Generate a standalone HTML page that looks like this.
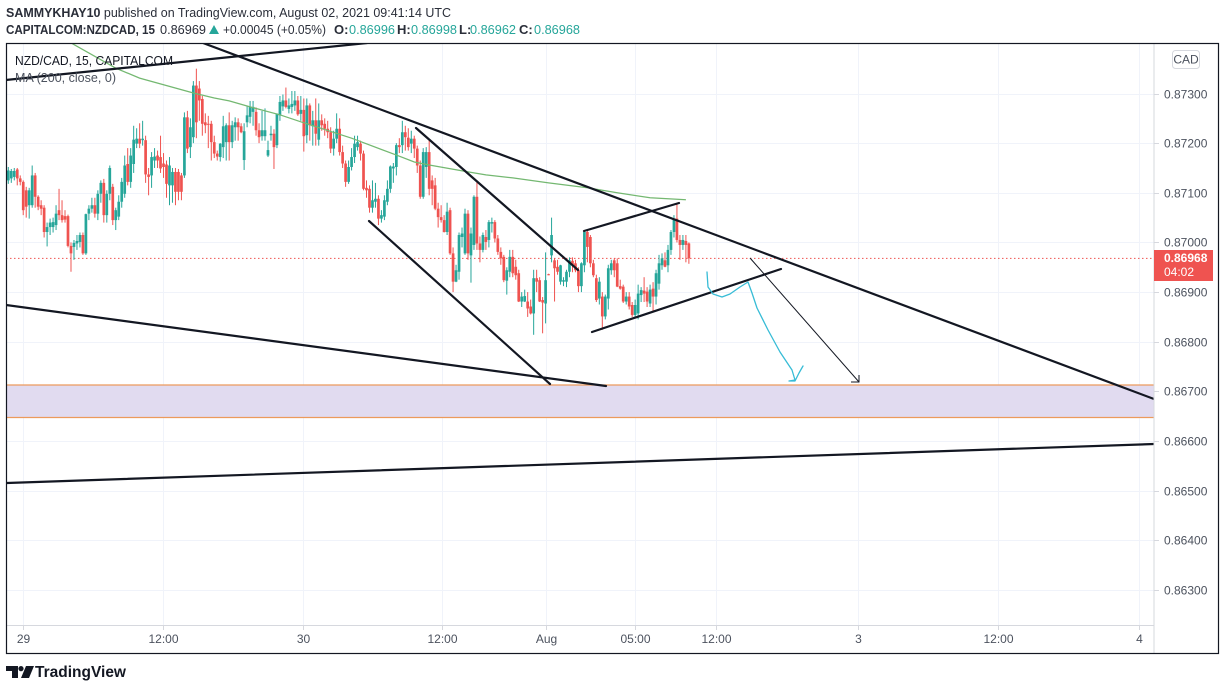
<!DOCTYPE html>
<html lang="en">
<head>
<meta charset="utf-8">
<title>NZD/CAD chart</title>
<style>
html,body{margin:0;padding:0;background:#fff;width:1225px;height:690px;overflow:hidden}
svg{display:block;font-family:"Liberation Sans",sans-serif}
</style>
</head>
<body>
<svg id="chart" width="1225" height="690" viewBox="0 0 1225 690">
  <defs><clipPath id="plot-clip"><rect x="7" y="44" width="1147" height="581"/></clipPath></defs>
  <rect x="0" y="0" width="1225" height="690" fill="#fff"/>

  <g font-size="13" fill="#2a2e39">
    <text x="6" y="17" textLength="445" lengthAdjust="spacingAndGlyphs"><tspan font-weight="bold">SAMMYKHAY10</tspan> published on TradingView.com, August 02, 2021 09:41:14 UTC</text>
    <text x="6" y="34" font-weight="bold" textLength="149" lengthAdjust="spacingAndGlyphs">CAPITALCOM:NZDCAD, 15</text>
    <text x="160" y="34" textLength="46" lengthAdjust="spacingAndGlyphs">0.86969</text>
    <polygon points="209,34 219,34 214,25" fill="#26a69a"/>
    <text x="223" y="34" textLength="103" lengthAdjust="spacingAndGlyphs">+0.00045 (+0.05%)</text>
    <text x="334" y="34" font-weight="bold">O:</text>
    <text x="349" y="34" fill="#26a69a" textLength="46" lengthAdjust="spacingAndGlyphs">0.86996</text>
    <text x="397" y="34" font-weight="bold">H:</text>
    <text x="411" y="34" fill="#26a69a" textLength="46" lengthAdjust="spacingAndGlyphs">0.86998</text>
    <text x="459" y="34" font-weight="bold">L:</text>
    <text x="470" y="34" fill="#26a69a" textLength="46" lengthAdjust="spacingAndGlyphs">0.86962</text>
    <text x="519" y="34" font-weight="bold">C:</text>
    <text x="534" y="34" fill="#26a69a" textLength="46" lengthAdjust="spacingAndGlyphs">0.86968</text>
  </g>

  <g id="grid"></g>

  <g clip-path="url(#plot-clip)">
    <rect x="6" y="385" width="1148" height="32.5" fill="#e1dbf0"/>
    <line x1="6" y1="385" x2="1154" y2="385" stroke="#ec9a5c" stroke-width="1.2"/>
    <line x1="6" y1="417.5" x2="1154" y2="417.5" stroke="#ec9a5c" stroke-width="1.2"/>
    <line id="last-line" x1="6" x2="1154" stroke="#ef5350" stroke-width="1" stroke-dasharray="1.5 2.5"/>
    <g id="candles"></g>
    <path id="ma-line" fill="none" stroke="#74b871" stroke-width="1.25"/>
    <g stroke="#131722" stroke-width="2.2" stroke-linecap="round">
      <line x1="6" y1="80" x2="367" y2="43"/>
      <line x1="203" y1="43" x2="1154" y2="399"/>
      <line x1="416" y1="128" x2="578" y2="270"/>
      <line x1="369" y1="221" x2="550" y2="384"/>
      <line x1="6" y1="305" x2="606" y2="386"/>
      <line x1="584" y1="231" x2="679" y2="203"/>
      <line x1="592" y1="332" x2="781" y2="269"/>
      <line x1="6" y1="483" x2="1154" y2="444"/>
    </g>
    <g stroke="#131722" stroke-width="1" fill="none">
      <line x1="750" y1="258" x2="859" y2="382"/>
      <polyline points="851,382 859,382 859,375"/>
    </g>
    <polyline fill="none" stroke="#37bcd6" stroke-width="1.3" stroke-linejoin="round" stroke-linecap="round" points="707,272 708,287 713,294 722,297 730,294 740,287 748,282 752,293 757,308 768,330 780,352 792,370 795,380 789,381 795,381 799,373 803,366"/>
  </g>

  <g font-size="13">
    <text x="15" y="65" fill="#131722" textLength="158" lengthAdjust="spacingAndGlyphs">NZD/CAD, 15, CAPITALCOM</text>
    <text x="15" y="82" fill="#4c525e" textLength="101" lengthAdjust="spacingAndGlyphs">MA (200, close, 0)</text>
  </g>

  <line x1="1154" y1="44" x2="1154" y2="653" stroke="#d6d8de" stroke-width="1"/>
  <line x1="6" y1="625.5" x2="1154" y2="625.5" stroke="#d6d8de" stroke-width="1"/>
  <g id="price-axis"></g>
  <g id="time-axis"></g>

  <rect x="1172.5" y="50.5" width="27" height="18" rx="3" fill="#fff" stroke="#d6d8de"/>
  <text x="1186" y="63.5" font-size="12" fill="#4c525e" text-anchor="middle">CAD</text>

  <rect x="1154" y="250" width="59" height="31" fill="#ef5350"/>
  <text id="last-label" x="1164" y="262" font-size="12" font-weight="bold" fill="#fff"></text>
  <text x="1164" y="276" font-size="12" fill="#fff">04:02</text>

  <rect x="6.5" y="43.5" width="1212" height="610" fill="none" stroke="#131722" stroke-width="1.2"/>

  <g>
    <path d="M6 666h12v12h-6v-7h-6z" fill="#131722"/>
    <circle cx="21" cy="668.6" r="2.6" fill="#131722"/>
    <path d="M26 666h8l-5 12h-8z" fill="#131722"/>
    <text x="35" y="677" font-size="15.5" font-weight="bold" fill="#131722" textLength="91" lengthAdjust="spacingAndGlyphs">TradingView</text>
  </g>
</svg>

<script>
// Prices are in units of 0.00001 CAD.
const opens = [
87125,87129,87132,87147,87129,87122,87105,87075,87075,87135,
87092,87075,87070,87021,87031,87031,87035,87065,87055,87053,
87053,86993,86991,86998,87001,87015,86978,87058,87068,87075,
87058,87098,87120,87055,87098,87112,87045,87052,87082,87098,
87158,87122,87158,87199,87209,87206,87206,87137,87135,87165,
87175,87172,87159,87157,87115,87115,87142,87142,87135,87135,
87252,87192,87212,87316,87310,87289,87242,87239,87239,87202,
87179,87172,87192,87202,87236,87202,87232,87242,87234,87166,
87242,87253,87263,87263,87226,87214,87214,87175,87216,87219,
87196,87256,87274,87286,87269,87273,87276,87286,87259,87267,
87216,87276,87234,87246,87207,87246,87239,87229,87222,87189,
87209,87229,87182,87159,87122,
87152,87172,87192,87199,87179,87110,87108,87070,87082,87088,
87048,87052,87082,87108,87149,87152,87196,87196,87222,87211,
87199,87209,87189,87155,87092,87152,87182,87125,87115,87068,
87051,87045,87021,87065,86978,86921,86941,87011,86978,87058,
86974,86995,87092,86998,86985,87011,87005,87038,87041,87008,
86981,86971,86923,86941,86971,86951,86938,86881,86881,86881,
86871,86857,86928,86924,86884,86877,86936,86974,86964,86951,
86921,86921,86921,86941,86963,86958,86944,86912,86954,87021,
87011,86958,86928,86887,86891,86851,86887,86944,86964,86958,
86912,86911,86881,86891,86874,86854,86857,86894,86903,86901,
86877,86907,86891,86917,86954,86964,86954,86985,87021,87048,
87005,86995,87003,86998];
const highs = [
87152,87148,87150,87150,87135,87125,87112,87110,87155,87140,
87095,87085,87075,87040,87048,87050,87075,87108,87085,87065,
87056,87000,87005,87015,87020,87020,87058,87075,87090,87090,
87105,87125,87128,87105,87155,87118,87070,87095,87130,87175,
87190,87190,87235,87230,87240,87245,87215,87150,87182,87190,
87185,87215,87180,87165,87172,87150,87150,87148,87140,87262,
87265,87250,87325,87350,87325,87295,87260,87255,87245,87215,
87185,87200,87255,87240,87262,87245,87252,87250,87240,87240,
87275,87285,87285,87272,87240,87265,87270,87205,87235,87228,
87260,87295,87298,87312,87290,87305,87305,87295,87295,87290,
87290,87280,87265,87290,87280,87258,87250,87245,87232,87225,
87260,87250,87195,87165,87165,
87190,87215,87215,87205,87185,87125,87115,87125,87120,87095,
87065,87095,87125,87155,87160,87200,87210,87245,87235,87230,
87225,87215,87195,87165,87190,87192,87208,87135,87130,87080,
87075,87055,87080,87070,86990,86955,87020,87030,87068,87065,
87030,87095,87125,87012,87020,87025,87045,87050,87045,87015,
86990,86975,86950,86985,86985,86965,86945,86900,86905,86900,
86885,86945,86945,86930,86890,86980,86937,87050,86968,86965,
86955,86930,86945,86970,86970,86965,86950,86960,87025,87025,
87015,86965,86935,86930,86900,86895,86955,86965,86968,86968,
86925,86915,86900,86900,86880,86885,86915,86910,86930,86910,
86915,86920,86945,86975,86978,86980,86995,87025,87055,87078,
87015,87015,87015,87000];
const lows = [
87118,87120,87125,87115,87115,87055,87050,87048,87070,87070,
87065,87055,87010,86992,87015,87020,87025,87045,87040,87040,
86990,86941,86965,86985,86990,86975,86975,87045,87060,87050,
87045,87080,87040,87040,87085,87035,87025,87045,87070,87090,
87115,87110,87140,87190,87190,87195,87120,87095,87110,87150,
87150,87140,87130,87090,87075,87080,87075,87085,87085,87130,
87180,87170,87200,87210,87245,87215,87220,87190,87165,87170,
87165,87163,87170,87165,87165,87190,87205,87205,87220,87146,
87232,87240,87235,87215,87200,87205,87205,87172,87205,87148,
87190,87245,87265,87270,87260,87260,87265,87255,87245,87183,
87200,87205,87195,87195,87195,87225,87215,87210,87180,87175,
87200,87175,87150,87112,87118,
87145,87160,87185,87165,87105,87090,87060,87060,87070,87035,
87040,87045,87075,87100,87120,87135,87180,87180,87185,87185,
87180,87170,87140,87088,87088,87130,87095,87075,87065,87030,
87040,87020,87015,86975,86900,86920,86925,86990,86975,86965,
86919,86985,86985,86960,86980,86985,86990,87020,87000,86975,
86955,86920,86895,86930,86930,86925,86880,86870,86880,86850,
86855,86814,86900,86880,86817,86837,86934,86960,86881,86935,
86915,86912,86910,86930,86940,86940,86900,86900,86940,86960,
86950,86930,86880,86875,86824,86845,86865,86935,86930,86910,
86905,86878,86875,86865,86850,86848,86845,86880,86880,86870,
86870,86860,86875,86905,86945,86950,86940,86975,87010,87000,
86965,86985,86960,86957];
const closes = [
87145,87144,87144,87129,87122,87065,87072,87105,87135,87092,
87072,87068,87021,87031,87040,87041,87058,87055,87045,87046,
86993,86978,86999,87003,87015,86978,87057,87068,87075,87058,
87098,87120,87055,87098,87150,87045,87065,87082,87122,87155,
87122,87175,87207,87209,87199,87209,87137,87132,87172,87173,
87165,87149,87152,87118,87155,87142,87102,87102,87102,87252,
87189,87232,87316,87242,87286,87239,87236,87238,87202,87179,
87173,87199,87234,87236,87202,87236,87242,87232,87222,87224,
87256,87273,87273,87226,87212,87226,87226,87186,87219,87192,
87259,87283,87286,87273,87276,87279,87286,87258,87267,87214,
87276,87236,87246,87219,87246,87236,87229,87222,87189,87209,
87229,87182,87159,87122,87152,
87172,87199,87202,87179,87108,87105,87070,87085,87088,87048,
87055,87085,87108,87153,87153,87196,87192,87222,87212,87192,
87209,87189,87155,87092,87182,87182,87108,87108,87068,87051,
87045,87021,87062,86978,86921,86944,87015,87018,87058,86978,
87018,87092,86998,86985,87015,87001,87041,87041,87008,86981,
86968,86924,86944,86971,86938,86934,86881,86891,86892,86867,
86857,86928,86921,86881,86879,86924,86935,87015,86948,86941,
86954,86924,86941,86964,86954,86944,86912,86958,87021,86991,
86958,86934,86884,86921,86851,86891,86948,86958,86944,86911,
86907,86881,86891,86871,86854,86874,86897,86904,86897,86881,
86905,86891,86938,86958,86968,86951,86985,87021,87048,87005,
86995,87005,86995,86968];
const maBars = [21,36,44,62,69,74,81,91,98,115,130,136,141,154,160,169,181,194,204,215,227];
const maValues = [87402,87351,87331,87301,87291,87285,87273,87257,87243,87210,87176,87162,87156,87142,87136,87130,87120,87110,87100,87090,87086];
const priceTicks = [87300,87200,87100,87000,86900,86800,86700,86600,86500,86400,86300];
const timeTickBars = [4.9,51.8,98.7,145.3,180.1,209.9,237.1,284.7,331.6,378.8];
const timeTickLabels = ['29','12:00','30','12:00','Aug','05:00','12:00','3','12:00','4'];

const NS = 'http://www.w3.org/2000/svg';
function xScale(bar) { return 8.3 + bar * 2.985; }
function yScale(price) { return 93.5 + (87300 - price) * 0.4965; }
function formatPrice(price) { return (price / 100000).toFixed(5); }

const gridGroup = document.getElementById('grid');
const priceAxis = document.getElementById('price-axis');
const timeAxis = document.getElementById('time-axis');
const candleGroup = document.getElementById('candles');

priceTicks.forEach(function (price) {
  const y = Math.round(yScale(price)) + 0.5;
  const gridLine = document.createElementNS(NS, 'line');
  gridLine.setAttribute('x1', 6);
  gridLine.setAttribute('x2', 1154);
  gridLine.setAttribute('y1', y);
  gridLine.setAttribute('y2', y);
  gridLine.setAttribute('stroke', '#f0f3fa');
  
  
  gridGroup.appendChild(gridLine);

  const tick = document.createElementNS(NS, 'line');
  tick.setAttribute('x1', 1154);
  tick.setAttribute('x2', 1159);
  tick.setAttribute('y1', y);
  tick.setAttribute('y2', y);
  tick.setAttribute('stroke', '#d6d8de');
  
  
  priceAxis.appendChild(tick);

  const label = document.createElementNS(NS, 'text');
  label.setAttribute('x', 1164);
  label.setAttribute('y', y + 4);
  label.setAttribute('font-size', '12');
  label.setAttribute('fill', '#4c525e');
  
  
  label.textContent = formatPrice(price);
  priceAxis.appendChild(label);
});

timeTickBars.forEach(function (bar, i) {
  const x = Math.round(xScale(bar)) + 0.5;
  const gridLine = document.createElementNS(NS, 'line');
  gridLine.setAttribute('x1', x);
  gridLine.setAttribute('x2', x);
  gridLine.setAttribute('y1', 44);
  gridLine.setAttribute('y2', 625);
  gridLine.setAttribute('stroke', '#f0f3fa');
  
  
  gridGroup.appendChild(gridLine);

  const tick = document.createElementNS(NS, 'line');
  tick.setAttribute('x1', x);
  tick.setAttribute('x2', x);
  tick.setAttribute('y1', 625);
  tick.setAttribute('y2', 630);
  tick.setAttribute('stroke', '#d6d8de');
  
  
  timeAxis.appendChild(tick);

  const label = document.createElementNS(NS, 'text');
  label.setAttribute('x', x);
  label.setAttribute('y', 643);
  label.setAttribute('font-size', '12');
  label.setAttribute('fill', '#4c525e');
  label.setAttribute('text-anchor', 'middle');
  
  
  label.textContent = timeTickLabels[i];
  timeAxis.appendChild(label);
});

closes.forEach(function (close, i) {
  const open = opens[i];
  const color = close >= open ? '#26a69a' : '#ef5350';
  const x = xScale(i);

  const wick = document.createElementNS(NS, 'line');
  wick.setAttribute('x1', x);
  wick.setAttribute('x2', x);
  wick.setAttribute('y1', yScale(highs[i]));
  wick.setAttribute('y2', yScale(lows[i]));
  wick.setAttribute('stroke', color);
  wick.setAttribute('stroke-width', '1');
  
  
  candleGroup.appendChild(wick);

  const top = yScale(Math.max(open, close));
  const bottom = yScale(Math.min(open, close));
  const body = document.createElementNS(NS, 'rect');
  body.setAttribute('x', x - 1.35);
  body.setAttribute('y', top);
  body.setAttribute('width', 2.7);
  body.setAttribute('height', Math.max(bottom - top, 1));
  body.setAttribute('fill', color);
  
  
  candleGroup.appendChild(body);
});

document.getElementById('ma-line').setAttribute('d', maValues.map(function (value, i) {
  return (i ? 'L' : 'M') + xScale(maBars[i]).toFixed(1) + ' ' + yScale(value).toFixed(1);
}).join(' '));

const lastClose = closes[closes.length - 1];
const lastLine = document.getElementById('last-line');
lastLine.setAttribute('y1', yScale(lastClose));
lastLine.setAttribute('y2', yScale(lastClose));
document.getElementById('last-label').textContent = formatPrice(lastClose);
</script>
</body>
</html>
